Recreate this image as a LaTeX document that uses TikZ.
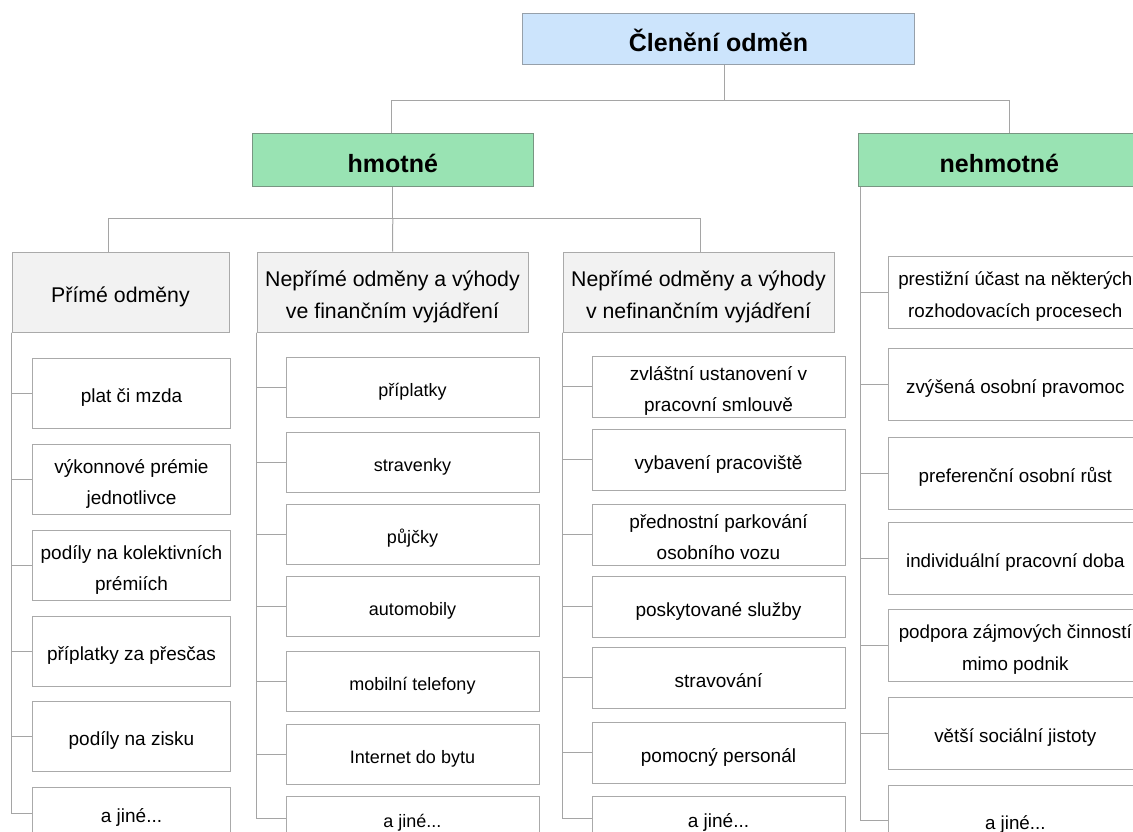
\documentclass[tikz,border=0pt]{standalone}
\usepackage{fontspec}
\setmainfont{Liberation Sans}
\definecolor{rootfill}{RGB}{204,228,252}
\definecolor{rootdraw}{RGB}{150,160,170}
\definecolor{grnfill}{RGB}{153,227,179}
\definecolor{grndraw}{RGB}{120,150,130}
\definecolor{hdrfill}{RGB}{242,242,242}
\definecolor{bordc}{RGB}{170,170,170}
\definecolor{linec}{RGB}{165,165,165}
\tikzset{
  box/.style={draw=bordc, line width=1pt, inner xsep=0pt, inner ysep=-5pt, align=center, text=black,
    execute at begin node={\rule{0pt}{1.3em}},
    execute at end node={\rule[-0.3em]{0pt}{0pt}}},
  tl/.style={execute at begin node={\rule{0pt}{\dimexpr\baselineskip+1.3em\relax}}},
  rootbox/.style={box, draw=rootdraw, fill=rootfill, minimum width=391.5, minimum height=51, font=\fontsize{25}{30}\selectfont\bfseries},
  grnbox/.style={box, draw=grndraw, fill=grnfill, minimum width=281.5, minimum height=52.7, font=\fontsize{25}{30}\selectfont\bfseries},
  hdrbox/.style={box, fill=hdrfill, minimum height=80, font=\fontsize{21.3}{32}\selectfont},
  lbox/.style={box, fill=white, minimum width=197.5, minimum height=70, font=\fontsize{19}{31}\selectfont},
  mbox/.style={box, fill=white, minimum width=253, minimum height=60, font=\fontsize{18}{31}\selectfont},
  nbox/.style={mbox, minimum height=61, font=\fontsize{19}{31}\selectfont},
  rbox/.style={box, fill=white, minimum width=253.5, minimum height=72, font=\fontsize{18.8}{32}\selectfont},
  conn/.style={draw=linec, line width=1pt},
}
\begin{document}
\begin{tikzpicture}[x=1pt,y=-1pt]
\useasboundingbox (0,0) rectangle (1133,832);
\clip (0,0) rectangle (1133,832);
% top levels
\node[rootbox] (root) at (718.5,39) {Členění odměn};
\node[grnbox] (hm) at (392.8,160.3) {hmotné};
\node[grnbox] (nh) at (999.4,160.3) {nehmotné};
% category headers
\node[hdrbox, minimum width=217, execute at begin node={\rule{0pt}{1.12em}}] (p1) at (120.5,292) {Přímé odměny};
\node[hdrbox, tl, minimum width=271] (p2) at (392.5,292) {Nepřímé odměny a výhody\\ve finančním vyjádření};
\node[hdrbox, tl, minimum width=271] (p3) at (698.5,292) {Nepřímé odměny a výhody\\v nefinančním vyjádření};
% left column
\node[lbox] (l1) at (131.5,393) {plat či mzda};
\node[lbox, tl] (l2) at (131.5,479.5) {výkonnové prémie\\jednotlivce};
\node[lbox, tl] (l3) at (131.5,565) {podíly na kolektivních\\prémiích};
\node[lbox] (l4) at (131.5,651) {příplatky za přesčas};
\node[lbox] (l5) at (131.5,736) {podíly na zisku};
\node[lbox, minimum height=52] (l6) at (131.5,813) {a jiné...};
% middle column
\node[mbox] (m1) at (412.5,387) {příplatky};
\node[mbox] (m2) at (412.5,462) {stravenky};
\node[mbox] (m3) at (412.5,534) {půjčky};
\node[mbox] (m4) at (412.5,606) {automobily};
\node[mbox] (m5) at (412.5,681) {mobilní telefony};
\node[mbox] (m6) at (412.5,754) {Internet do bytu};
\node[mbox, minimum height=44] (m7) at (412.5,818) {a jiné...};
% third column
\node[nbox, tl] (n1) at (718.5,386.5) {zvláštní ustanovení v\\pracovní smlouvě};
\node[nbox] (n2) at (718.5,459.5) {vybavení pracoviště};
\node[nbox, tl] (n3) at (718.5,534.5) {přednostní parkování\\osobního vozu};
\node[nbox] (n4) at (718.5,606.5) {poskytované služby};
\node[nbox] (n5) at (718.5,677.5) {stravování};
\node[nbox] (n6) at (718.5,752.5) {pomocný personál};
\node[nbox, minimum height=44] (n7) at (718.5,818) {a jiné...};
% right column
\node[rbox, tl] (r1) at (1015.3,292) {prestižní účast na některých\\rozhodovacích procesech};
\node[rbox] (r2) at (1015.3,384) {zvýšená osobní pravomoc};
\node[rbox] (r3) at (1015.3,473) {preferenční osobní růst};
\node[rbox] (r4) at (1015.3,558) {individuální pracovní doba};
\node[rbox, tl] (r5) at (1015.3,645) {podpora zájmových činností\\mimo podnik};
\node[rbox] (r6) at (1015.3,733) {větší sociální jistoty};
\node[rbox, minimum height=70] (r7) at (1015.3,820) {a jiné...};
% connectors top
\coordinate (rj) at ([xshift=5.5pt]root.south |- 0,101);
\draw[conn] ([xshift=5.5pt]root.south) -- (rj);
\draw[conn] (rj) -| ([xshift=-1.5pt]hm.north);
\draw[conn] (rj) -| ([xshift=10.5pt]nh.north);
\coordinate (hj) at (hm.south |- 0,218);
\draw[conn] (hm.south) -- (hj);
\draw[conn] (hj) -| ([xshift=-12.5pt]p1.north);
\draw[conn] (hj) -- (p2.north);
\draw[conn] (hj) -| ([xshift=2pt]p3.north);
% column connectors
\foreach \c in {l1,l2,l3,l4,l5,l6} { \draw[conn] (p1.south west) |- (\c.west); }
\foreach \c in {m1,m2,m3,m4,m5,m6,m7} { \draw[conn] (p2.south west) |- (\c.west); }
\foreach \c in {n1,n2,n3,n4,n5,n6,n7} { \draw[conn] (p3.south west) |- (\c.west); }
\foreach \c in {r1,r2,r3,r4,r5,r6,r7} { \draw[conn] ([xshift=2.5pt]nh.south west) |- (\c.west); }
\end{tikzpicture}
\end{document}
